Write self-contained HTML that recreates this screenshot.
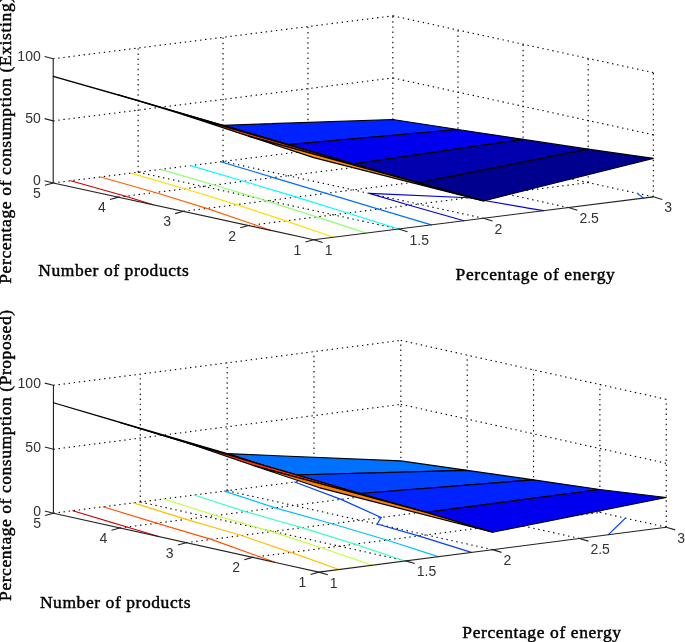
<!DOCTYPE html>
<html><head><meta charset="utf-8"><style>
html,body{margin:0;padding:0;background:#fff;}
body{width:685px;height:642px;overflow:hidden;}
svg{display:block;}
</style></head><body>
<svg width="685" height="642" viewBox="0 0 685 642">
<defs><filter id="soft" x="0" y="0" width="100%" height="100%"><feGaussianBlur stdDeviation="0.35"/></filter></defs>
<rect width="685" height="642" fill="#fff"/>
<g filter="url(#soft)">
<g stroke="#000" stroke-width="1.1" stroke-dasharray="1.4 3.7" fill="none">
<path d="M398.59,229.01L138.13,172.22"/>
<path d="M483.50,218.29L223.04,161.50"/>
<path d="M568.40,207.56L307.94,150.77"/>
<path d="M653.31,196.83L392.85,140.04"/>
<path d="M248.56,225.54L588.19,182.63"/>
<path d="M183.45,211.34L523.08,168.44"/>
<path d="M118.34,197.15L457.96,154.24"/>
<path d="M53.22,182.95L392.85,140.04"/>
<path d="M138.13,172.22L138.13,48.02"/>
<path d="M223.04,161.50L223.04,37.30"/>
<path d="M307.94,150.77L307.94,26.57"/>
<path d="M392.85,140.04L392.85,15.84"/>
<path d="M53.22,120.85L392.85,77.94"/>
<path d="M53.22,58.75L392.85,15.84"/>
<path d="M653.31,196.83L653.31,72.63"/>
<path d="M588.19,182.63L588.19,58.43"/>
<path d="M523.08,168.44L523.08,44.23"/>
<path d="M457.96,154.24L457.96,30.04"/>
<path d="M392.85,77.94L653.31,134.73"/>
<path d="M392.85,15.84L653.31,72.63"/>
</g>
<g fill="none" stroke-width="1.2" stroke-linecap="round">
<path d="M463.94,220.76L409.41,205.22" stroke="#0000df"/>
<path d="M409.41,205.22L369.33,193.39" stroke="#0000df"/>
<path d="M543.43,210.71L468.38,197.77" stroke="#0000df"/>
<path d="M468.38,197.77L369.33,193.39" stroke="#0000df"/>
<path d="M459.83,154.64L454.64,154.66" stroke="#0000df"/>
<path d="M454.64,154.66L346.05,145.95" stroke="#0000df"/>
<path d="M431.34,224.87L378.48,209.13" stroke="#0070ff"/>
<path d="M378.48,209.13L326.23,193.31" stroke="#0070ff"/>
<path d="M326.23,193.31L273.38,177.56" stroke="#0070ff"/>
<path d="M273.38,177.56L220.63,161.80" stroke="#0070ff"/>
<path d="M643.32,198.09L637.23,193.32" stroke="#0070ff"/>
<path d="M398.75,228.99L347.55,213.04" stroke="#00ffff"/>
<path d="M347.55,213.04L296.36,197.08" stroke="#00ffff"/>
<path d="M296.36,197.08L243.85,181.29" stroke="#00ffff"/>
<path d="M243.85,181.29L190.63,165.59" stroke="#00ffff"/>
<path d="M366.16,233.11L316.61,216.94" stroke="#8fff70"/>
<path d="M316.61,216.94L266.49,200.85" stroke="#8fff70"/>
<path d="M266.49,200.85L214.32,185.02" stroke="#8fff70"/>
<path d="M214.32,185.02L160.63,169.38" stroke="#8fff70"/>
<path d="M333.56,237.23L285.68,220.85" stroke="#ffdf00"/>
<path d="M285.68,220.85L236.62,204.63" stroke="#ffdf00"/>
<path d="M236.62,204.63L184.78,188.75" stroke="#ffdf00"/>
<path d="M184.78,188.75L130.63,173.17" stroke="#ffdf00"/>
<path d="M254.75,224.76L270.64,230.36" stroke="#ff6000"/>
<path d="M254.75,224.76L206.75,208.40" stroke="#ff6000"/>
<path d="M206.75,208.40L155.25,192.48" stroke="#ff6000"/>
<path d="M155.25,192.48L100.62,176.96" stroke="#ff6000"/>
<path d="M125.72,196.21L152.97,204.70" stroke="#cf0000"/>
<path d="M125.72,196.21L70.62,180.75" stroke="#cf0000"/>
</g>
<g fill="none" stroke="#222" stroke-width="1.1">
<path d="M53.22,182.95L313.68,239.74L653.31,196.83"/>
<path d="M53.22,182.95L53.22,58.75"/>
<path d="M313.68,239.74L305.38,242.04"/>
<path d="M248.56,225.54L240.26,227.84"/>
<path d="M183.45,211.34L175.15,213.65"/>
<path d="M118.34,197.15L110.04,199.45"/>
<path d="M53.22,182.95L44.92,185.25"/>
<path d="M313.68,239.74L322.68,242.44"/>
<path d="M398.59,229.01L407.59,231.71"/>
<path d="M483.50,218.29L492.50,220.99"/>
<path d="M568.40,207.56L577.40,210.26"/>
<path d="M653.31,196.83L662.31,199.53"/>
<path d="M53.22,182.95L44.62,180.75"/>
<path d="M53.22,120.85L44.62,118.65"/>
<path d="M53.22,58.75L44.62,56.55"/>
</g>
<g stroke="#000" stroke-width="1.15" stroke-linejoin="round">
<polygon points="288.15,144.64 457.96,129.52 392.85,119.55 223.04,125.23" fill="#0020ff"/>
<polygon points="353.26,163.87 523.08,139.37 457.96,129.52 288.15,144.64" fill="#0000ef"/>
<polygon points="418.38,182.85 588.19,149.16 523.08,139.37 353.26,163.87" fill="#0000af"/>
<polygon points="118.34,94.68 288.15,144.64 223.04,125.23 53.22,76.39" fill="#9f0000"/>
<polygon points="483.50,200.90 653.31,158.33 588.19,149.16 418.38,182.85" fill="#00008f"/>
<polygon points="183.45,114.72 353.26,163.87 288.15,144.64 118.34,94.68" fill="#ef0000"/>
<polygon points="248.56,136.12 418.38,182.85 353.26,163.87 183.45,114.72" fill="#ff4000"/>
<polygon points="313.68,157.64 483.50,200.90 418.38,182.85 248.56,136.12" fill="#ff8f00"/>
</g>
<g font-family="&quot;Liberation Sans&quot;, sans-serif" font-size="14" fill="#333">
<text x="301.18" y="254.74" text-anchor="end">1</text>
<text x="236.06" y="240.54" text-anchor="end">2</text>
<text x="170.95" y="226.34" text-anchor="end">3</text>
<text x="105.84" y="212.15" text-anchor="end">4</text>
<text x="40.72" y="197.95" text-anchor="end">5</text>
<text x="324.68" y="255.24">1</text>
<text x="409.59" y="244.51">1.5</text>
<text x="494.50" y="233.79">2</text>
<text x="579.40" y="223.06">2.5</text>
<text x="664.31" y="212.33">3</text>
<text x="40.72" y="185.45" text-anchor="end">0</text>
<text x="40.72" y="123.35" text-anchor="end">50</text>
<text x="40.72" y="61.25" text-anchor="end">100</text>
</g>
<g stroke="#000" stroke-width="1.1" stroke-dasharray="1.4 3.7" fill="none">
<path d="M405.71,560.88L140.30,501.98"/>
<path d="M492.55,549.65L227.14,490.75"/>
<path d="M579.39,538.43L313.98,479.53"/>
<path d="M666.24,527.20L400.83,468.30"/>
<path d="M252.51,557.38L599.89,512.48"/>
<path d="M186.16,542.66L533.53,497.75"/>
<path d="M119.80,527.94L467.18,483.03"/>
<path d="M53.45,513.21L400.83,468.30"/>
<path d="M140.30,501.98L140.30,374.09"/>
<path d="M227.14,490.75L227.14,362.87"/>
<path d="M313.98,479.53L313.98,351.64"/>
<path d="M400.83,468.30L400.83,340.41"/>
<path d="M53.45,449.27L400.83,404.36"/>
<path d="M53.45,385.32L400.83,340.41"/>
<path d="M666.24,527.20L666.24,399.31"/>
<path d="M599.89,512.48L599.89,384.59"/>
<path d="M533.53,497.75L533.53,369.86"/>
<path d="M467.18,483.03L467.18,355.14"/>
<path d="M400.83,404.36L666.24,463.26"/>
<path d="M400.83,340.41L666.24,399.31"/>
</g>
<g fill="none" stroke-width="1.2" stroke-linecap="round">
<path d="M468.80,483.38L465.93,483.19" stroke="#0000bf"/>
<path d="M465.93,483.19L369.44,472.36" stroke="#0000bf"/>
<path d="M471.38,552.39L418.53,535.92" stroke="#0040ff"/>
<path d="M418.53,535.92L377.05,524.02" stroke="#0040ff"/>
<path d="M608.34,534.69L625.41,518.14" stroke="#0040ff"/>
<path d="M381.18,517.45L377.05,524.02" stroke="#0040ff"/>
<path d="M381.18,517.45L341.07,499.33" stroke="#0040ff"/>
<path d="M341.07,499.33L294.70,482.02" stroke="#0040ff"/>
<path d="M438.29,556.67L386.61,540.05" stroke="#00bfff"/>
<path d="M386.61,540.05L332.16,523.78" stroke="#00bfff"/>
<path d="M332.16,523.78L275.14,507.85" stroke="#00bfff"/>
<path d="M275.14,507.85L224.23,491.13" stroke="#00bfff"/>
<path d="M405.21,560.95L354.68,544.18" stroke="#40ffbf"/>
<path d="M354.68,544.18L301.93,527.69" stroke="#40ffbf"/>
<path d="M301.93,527.69L245.50,511.68" stroke="#40ffbf"/>
<path d="M245.50,511.68L193.95,495.05" stroke="#40ffbf"/>
<path d="M372.12,565.22L322.75,548.30" stroke="#bfff40"/>
<path d="M322.75,548.30L271.70,531.60" stroke="#bfff40"/>
<path d="M271.70,531.60L215.85,515.52" stroke="#bfff40"/>
<path d="M215.85,515.52L163.67,498.96" stroke="#bfff40"/>
<path d="M339.04,569.50L290.82,552.43" stroke="#ffbf00"/>
<path d="M290.82,552.43L241.47,535.51" stroke="#ffbf00"/>
<path d="M241.47,535.51L186.21,519.35" stroke="#ffbf00"/>
<path d="M186.21,519.35L133.39,502.88" stroke="#ffbf00"/>
<path d="M258.89,556.56L275.00,562.38" stroke="#ff5000"/>
<path d="M258.89,556.56L211.24,539.42" stroke="#ff5000"/>
<path d="M211.24,539.42L156.56,523.18" stroke="#ff5000"/>
<path d="M156.56,523.18L103.11,506.79" stroke="#ff5000"/>
<path d="M126.92,527.02L158.64,536.55" stroke="#cf0000"/>
<path d="M126.92,527.02L72.83,510.70" stroke="#cf0000"/>
</g>
<g fill="none" stroke="#222" stroke-width="1.1">
<path d="M53.45,513.21L318.86,572.11L666.24,527.20"/>
<path d="M53.45,513.21L53.45,385.32"/>
<path d="M318.86,572.11L310.56,574.41"/>
<path d="M252.51,557.38L244.21,559.68"/>
<path d="M186.16,542.66L177.85,544.96"/>
<path d="M119.80,527.94L111.50,530.24"/>
<path d="M53.45,513.21L45.15,515.51"/>
<path d="M318.86,572.11L327.86,574.81"/>
<path d="M405.71,560.88L414.71,563.58"/>
<path d="M492.55,549.65L501.55,552.36"/>
<path d="M579.39,538.43L588.39,541.13"/>
<path d="M666.24,527.20L675.24,529.90"/>
<path d="M53.45,513.21L44.85,511.01"/>
<path d="M53.45,449.27L44.85,447.07"/>
<path d="M53.45,385.32L44.85,383.12"/>
</g>
<g stroke="#000" stroke-width="1.15" stroke-linejoin="round">
<polygon points="293.49,475.03 467.18,470.36 400.83,460.88 227.14,453.62" fill="#0070ff"/>
<polygon points="359.85,493.55 533.53,479.85 467.18,470.36 293.49,475.03" fill="#0040ff"/>
<polygon points="426.20,512.42 599.89,489.45 533.53,479.85 359.85,493.55" fill="#0020ff"/>
<polygon points="119.80,422.55 293.49,475.03 227.14,453.62 53.45,402.71" fill="#af0000"/>
<polygon points="492.55,532.26 666.24,497.53 599.89,489.45 426.20,512.42" fill="#0000ef"/>
<polygon points="186.16,442.52 359.85,493.55 293.49,475.03 119.80,422.55" fill="#df0000"/>
<polygon points="252.51,465.30 426.20,512.42 359.85,493.55 186.16,442.52" fill="#ff3000"/>
<polygon points="318.86,487.57 492.55,532.26 426.20,512.42 252.51,465.30" fill="#ff8000"/>
</g>
<g font-family="&quot;Liberation Sans&quot;, sans-serif" font-size="14" fill="#333">
<text x="306.36" y="587.11" text-anchor="end">1</text>
<text x="240.01" y="572.38" text-anchor="end">2</text>
<text x="173.66" y="557.66" text-anchor="end">3</text>
<text x="107.30" y="542.94" text-anchor="end">4</text>
<text x="40.95" y="528.21" text-anchor="end">5</text>
<text x="329.86" y="587.61">1</text>
<text x="416.71" y="576.38">1.5</text>
<text x="503.55" y="565.15">2</text>
<text x="590.39" y="553.93">2.5</text>
<text x="677.24" y="542.70">3</text>
<text x="40.95" y="515.71" text-anchor="end">0</text>
<text x="40.95" y="451.77" text-anchor="end">50</text>
<text x="40.95" y="387.82" text-anchor="end">100</text>
</g>

<g font-family="&quot;Liberation Serif&quot;, serif" font-size="17.5" fill="#000" stroke="#000" stroke-width="0.45">
<text x="38.2" y="276.3" letter-spacing="0.57">Number of products</text>
<text x="455.6" y="279.8" letter-spacing="0.62">Percentage of energy</text>
<text x="39.9" y="608" letter-spacing="0.57">Number of products</text>
<text x="462.3" y="638" letter-spacing="0.6">Percentage of energy</text>
<text transform="translate(11.2,283.8) rotate(-90)" letter-spacing="0.63">Percentage of consumption (Existing)</text>
<text transform="translate(11.2,600.9) rotate(-90)" letter-spacing="0.55">Percentage of consumption (Proposed)</text>
</g>

</g>
</svg>
</body></html>
